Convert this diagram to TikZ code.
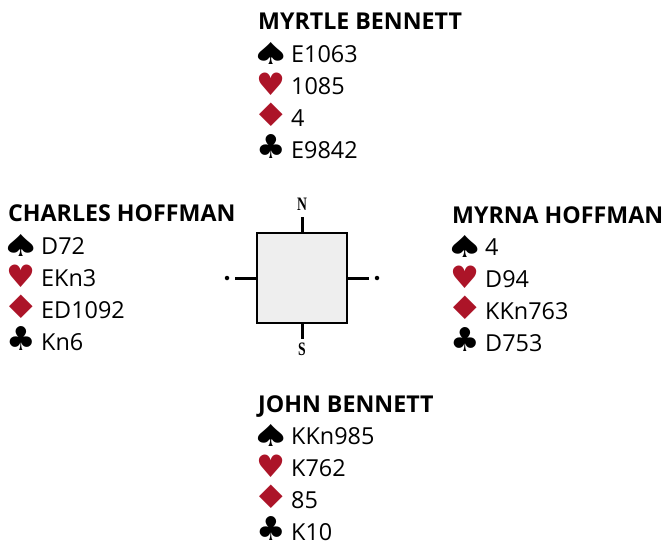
\documentclass[tikz,border=0pt]{standalone}
\usepackage{fontspec}
\setmainfont{Open Sans}
\newfontfamily\suitfont{DejaVu Sans}
\newfontfamily\compfont{Liberation Serif}
\definecolor{suitred}{RGB}{172,20,40}
\definecolor{boxgray}{RGB}{238,238,238}
% colour, glyph, ink height, xscale
\newcommand\suitg[4]{\scalebox{#4}[1]{\resizebox*{!}{#3}{\textcolor{#1}{\suitfont #2}}}}
\newcommand\hand[8]{%
  \node[handtitle] (#1t) at (#2,#3) {#4};
  \node[suitglyph] (#1gs) at (#2+13,#3+32.5+2) {\suitg{black}{♠}{22pt}{1.45}};
  \node[handrow] (#1s) at (#2+33,#3+32.5) {#5};
  \node[suitglyph] (#1gh) at (#2+13,#3+64.5+1) {\suitg{suitred}{♥}{22.5pt}{1.05}};
  \node[handrow] (#1h) at (#2+33,#3+64.5) {#6};
  \node[suitglyph] (#1gd) at (#2+13,#3+96.5+0.5) {\suitg{suitred}{♦}{23.5pt}{1.3}};
  \node[handrow] (#1d) at (#2+33,#3+96.5) {#7};
  \node[suitglyph] (#1gc) at (#2+13,#3+128.5+0.5) {\suitg{black}{♣}{24pt}{1.0}};
  \node[handrow] (#1c) at (#2+33,#3+128.5) {#8};
}
\begin{document}
\begin{tikzpicture}[x=1pt,y=-1pt,
  handtitle/.style={anchor=base west,inner sep=0pt,font=\fontsize{23.2}{23}\selectfont\bfseries},
  handrow/.style={anchor=base west,inner sep=0pt,font=\fontsize{23.4}{24}\selectfont},
  suitglyph/.style={anchor=south,inner sep=0pt},
  compbox/.style={draw=black,line width=2pt,fill=boxgray,minimum width=90pt,minimum height=90pt,inner sep=0pt},
  tick/.style={line width=3pt},
  complabel/.style={inner sep=0pt,font=\compfont\fontsize{19}{19}\selectfont\bfseries,xscale=0.72},
  compdot/.style={circle,fill=black,inner sep=0pt,minimum size=4.5pt}]
\useasboundingbox (0,0) rectangle (665,543);
\hand{n}{258}{30}{MYRTLE BENNETT}{E1063}{1085}{4}{E9842}
\hand{w}{8}{222}{CHARLES HOFFMAN}{D72}{EKn3}{ED1092}{Kn6}
\hand{e}{452}{223}{MYRNA HOFFMAN}{4}{D94}{KKn763}{D753}
\hand{s}{258}{412}{JOHN BENNETT}{KKn985}{K762}{85}{K10}
\node[compbox] (sq) at (302,278) {};
\coordinate (tn) at (302,217);
\coordinate (ts) at (302,339);
\coordinate (tw) at (235,278);
\coordinate (te) at (369,278);
\draw[tick] (sq.north) -- (tn);
\draw[tick] (sq.south) -- (ts);
\draw[tick] (sq.west) -- (tw);
\draw[tick] (sq.east) -- (te);
\node[complabel] (ln) at (302,204) {N};
\node[complabel] (ls) at (302,349.5) {S};
\node[compdot] (dw) at (227,278) {};
\node[compdot] (de) at (377,278) {};
\end{tikzpicture}
\end{document}
